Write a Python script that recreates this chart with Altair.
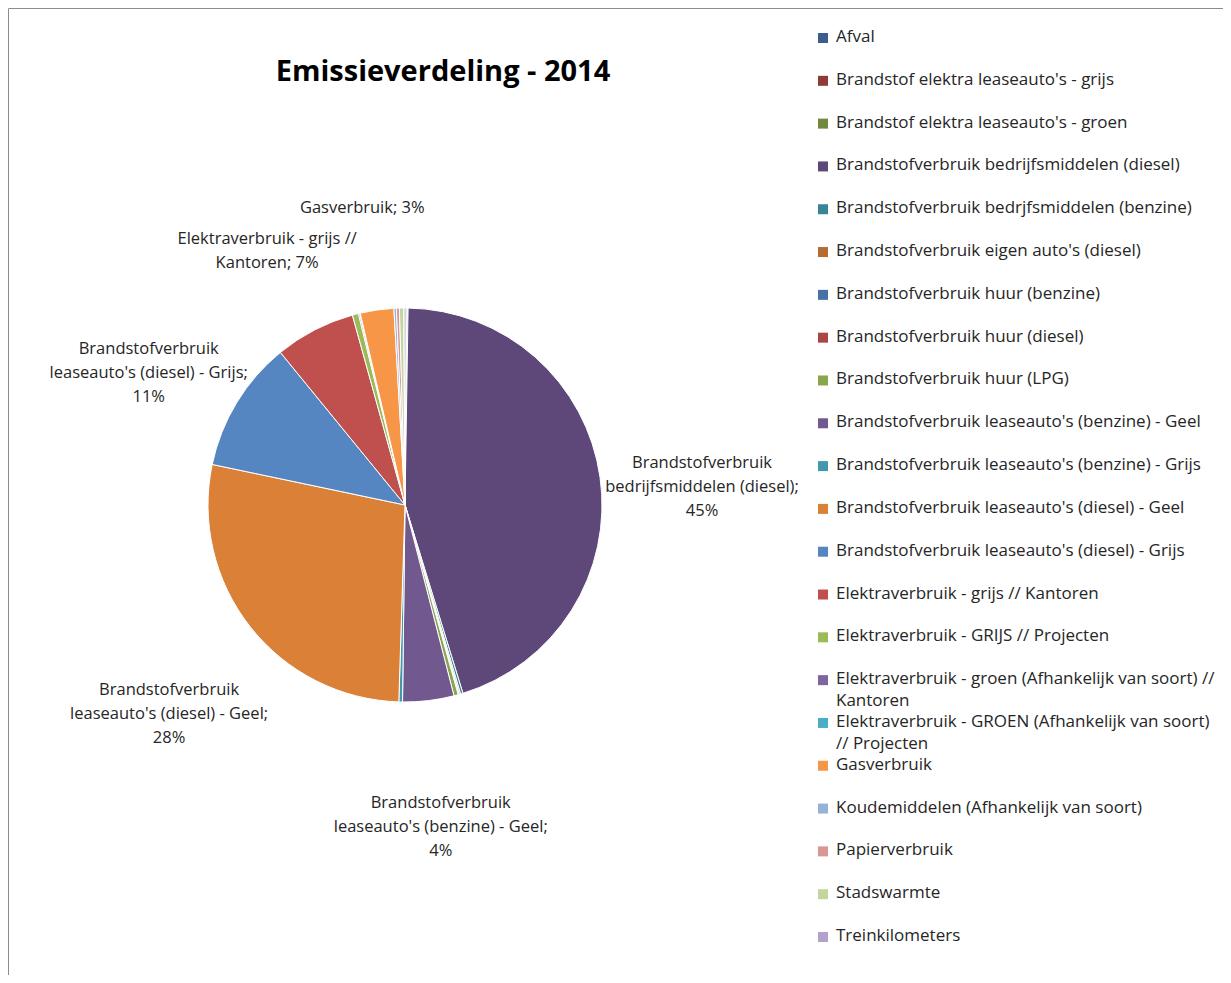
import altair as alt
import pandas as pd

title_text = ["Emissieverdeling - 2014"]

names = [
    "Afval",
    "Brandstof elektra leaseauto's - grijs",
    "Brandstof elektra leaseauto's - groen",
    "Brandstofverbruik bedrijfsmiddelen (diesel)",
    "Brandstofverbruik bedrjfsmiddelen (benzine)",
    "Brandstofverbruik eigen auto's (diesel)",
    "Brandstofverbruik huur (benzine)",
    "Brandstofverbruik huur (diesel)",
    "Brandstofverbruik huur (LPG)",
    "Brandstofverbruik leaseauto's (benzine) - Geel",
    "Brandstofverbruik leaseauto's (benzine) - Grijs",
    "Brandstofverbruik leaseauto's (diesel) - Geel",
    "Brandstofverbruik leaseauto's (diesel) - Grijs",
    "Elektraverbruik - grijs // Kantoren",
    "Elektraverbruik - GRIJS // Projecten",
    "Elektraverbruik - groen (Afhankelijk van soort) // Kantoren",
    "Elektraverbruik - GROEN (Afhankelijk van soort) // Projecten",
    "Gasverbruik",
    "Koudemiddelen (Afhankelijk van soort)",
    "Papierverbruik",
    "Stadswarmte",
    "Treinkilometers",
]

# legend text, first and (wrapped) second line
legend_line1 = [
    "Afval",
    "Brandstof elektra leaseauto's - grijs",
    "Brandstof elektra leaseauto's - groen",
    "Brandstofverbruik bedrijfsmiddelen (diesel)",
    "Brandstofverbruik bedrjfsmiddelen (benzine)",
    "Brandstofverbruik eigen auto's (diesel)",
    "Brandstofverbruik huur (benzine)",
    "Brandstofverbruik huur (diesel)",
    "Brandstofverbruik huur (LPG)",
    "Brandstofverbruik leaseauto's (benzine) - Geel",
    "Brandstofverbruik leaseauto's (benzine) - Grijs",
    "Brandstofverbruik leaseauto's (diesel) - Geel",
    "Brandstofverbruik leaseauto's (diesel) - Grijs",
    "Elektraverbruik - grijs // Kantoren",
    "Elektraverbruik - GRIJS // Projecten",
    "Elektraverbruik - groen (Afhankelijk van soort) //",
    "Elektraverbruik - GROEN (Afhankelijk van soort)",
    "Gasverbruik",
    "Koudemiddelen (Afhankelijk van soort)",
    "Papierverbruik",
    "Stadswarmte",
    "Treinkilometers",
]
legend_line2 = [
    "", "", "", "", "", "", "", "", "", "", "", "", "", "", "",
    "Kantoren",
    "// Projecten",
    "", "", "", "", "",
]

# percentage share
values = [0.15, 0.05, 0.05, 45.0, 0.2, 0.1, 0.05, 0.05, 0.35, 4.2, 0.3,
          27.8, 10.8, 6.6, 0.5, 0.1, 0.05, 2.75, 0.2, 0.25, 0.35, 0.1]

label_prefix = [
    "", "", "",
    "Brandstofverbruik\nbedrijfsmiddelen (diesel);\n",
    "", "", "", "", "",
    "Brandstofverbruik\nleaseauto's (benzine) - Geel;\n",
    "",
    "Brandstofverbruik\nleaseauto's (diesel) - Geel;\n",
    "Brandstofverbruik\nleaseauto's (diesel) - Grijs;\n",
    "Elektraverbruik - grijs //\nKantoren; ",
    "", "", "",
    "Gasverbruik; ",
    "", "", "", "",
]

colors = [
    "#3B5E8C", "#8E3B38", "#71893F", "#5E4879", "#378596", "#B86B2F",
    "#4672A8", "#AA4644", "#89A54E", "#71588F", "#4298AF", "#DA8137",
    "#5686C2", "#C0504D", "#9BBB59", "#8064A2", "#4BACC6", "#F79646",
    "#95B3D7", "#D99694", "#C3D69B", "#B2A2C7",
]

df = pd.DataFrame({
    "name": names,
    "line1": legend_line1,
    "line2": legend_line2,
    "value": values,
    "prefix": label_prefix,
    "idx": list(range(len(names))),
})

color_scale = alt.Scale(domain=names, range=colors)
FONT = "Open Sans"
CX, CY = 397, 497

base = alt.Chart(df)

pie = base.mark_arc(outerRadius=197, stroke="white", strokeWidth=1).encode(
    theta=alt.Theta("value:Q", stack=True),
    color=alt.Color("name:N", scale=color_scale, legend=None),
    order=alt.Order("idx:Q"),
    x=alt.value(CX),
    y=alt.value(CY),
)

labels = base.transform_joinaggregate(
    total="sum(value)"
).transform_calculate(
    label="datum.prefix == '' ? '' : datum.prefix + format(datum.value / datum.total, '.0%')"
).mark_text(
    radius=300, font=FONT, fontSize=16.5, color="#262626", align="center",
    baseline="middle", lineBreak="\n", lineHeight=24,
).encode(
    theta=alt.Theta("value:Q", stack=True),
    order=alt.Order("idx:Q"),
    text="label:N",
    x=alt.value(CX),
    y=alt.value(CY),
)

legend_y = alt.Y("idx:Q", scale=alt.Scale(domain=[0, 21], range=[30, 929]), axis=None)

legend_sq = base.mark_square(size=100, opacity=1).encode(
    x=alt.value(815),
    y=legend_y,
    color=alt.Color("name:N", scale=color_scale, legend=None),
)

legend_txt1 = base.mark_text(
    align="left", baseline="middle", dy=-1, font=FONT, fontSize=17,
    color="#262626",
).encode(
    x=alt.value(828),
    y=legend_y,
    text="line1:N",
)

legend_txt2 = base.mark_text(
    align="left", baseline="middle", dy=21, font=FONT, fontSize=17,
    color="#262626",
).encode(
    x=alt.value(828),
    y=legend_y,
    text="line2:N",
)

title = alt.Chart(pd.DataFrame({"t": title_text})).mark_text(
    font=FONT, fontSize=29, fontWeight="bold", color="#000000",
    align="center", baseline="middle",
).encode(
    x=alt.value(435),
    y=alt.value(64),
    text="t:N",
)

chart = alt.layer(pie, labels, legend_sq, legend_txt1, legend_txt2, title).properties(
    width=1215,
    height=967,
    padding=0,
    autosize=alt.AutoSizeParams(type="fit", contains="padding"),
    background="white",
).configure_view(
    stroke="#8c8c8c",
    strokeWidth=1,
)

chart.save("out.html", embed_options={"renderer": "svg", "actions": False})
